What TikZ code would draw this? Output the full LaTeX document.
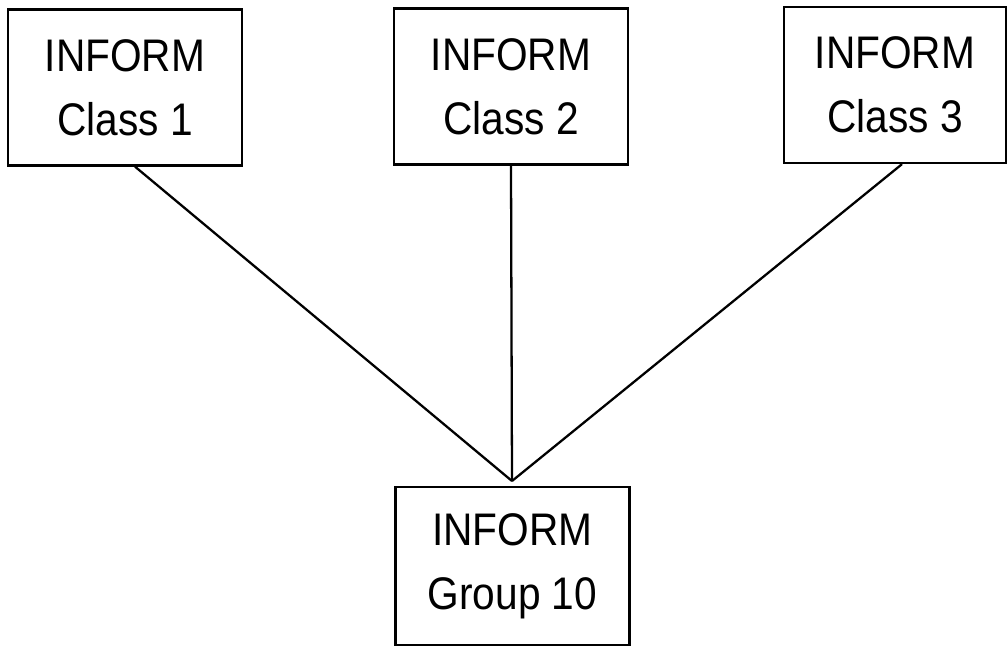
\documentclass[tikz,border=0pt]{standalone}
\usepackage{fontspec}
\setmainfont{Liberation Sans}[FakeStretch=0.89]
\usepackage{tikz}
\usetikzlibrary{positioning}
\tikzset{
 box/.style
  = {rectangle, draw, inner sep=0pt, minimum height=3.12cm, minimum width=4.68cm,
     align=center, font=\fontsize{26}{36.5}\selectfont, line width=1.3pt},
 link/.style
  = {draw, line width=1.3pt},
}

\begin{document}
\begin{tikzpicture}[x=0.02cm, y=-0.02cm]

\useasboundingbox (0,0) rectangle (1008,648);

% Classes
\node[box] (class1) at (125,87.5) {INFORM\\Class 1};
\node[box] (class2) at (511,86.5) {INFORM\\Class 2};
\node[box, minimum width=4.44cm] (class3) at (895,85) {INFORM\\Class 3};

% Group
\node[box, minimum height=3.16cm] (group) at (512.5,566) {INFORM\\Group 10};

% Joint above the group
\coordinate (joint) at (512,481);

% Links
\draw[link] ([xshift=0.2cm]class1.south) -- (joint);
\draw[link] (class2.south) -- (joint);
\draw[link] ([xshift=0.14cm]class3.south) -- (joint);

\end{tikzpicture}
\end{document}
